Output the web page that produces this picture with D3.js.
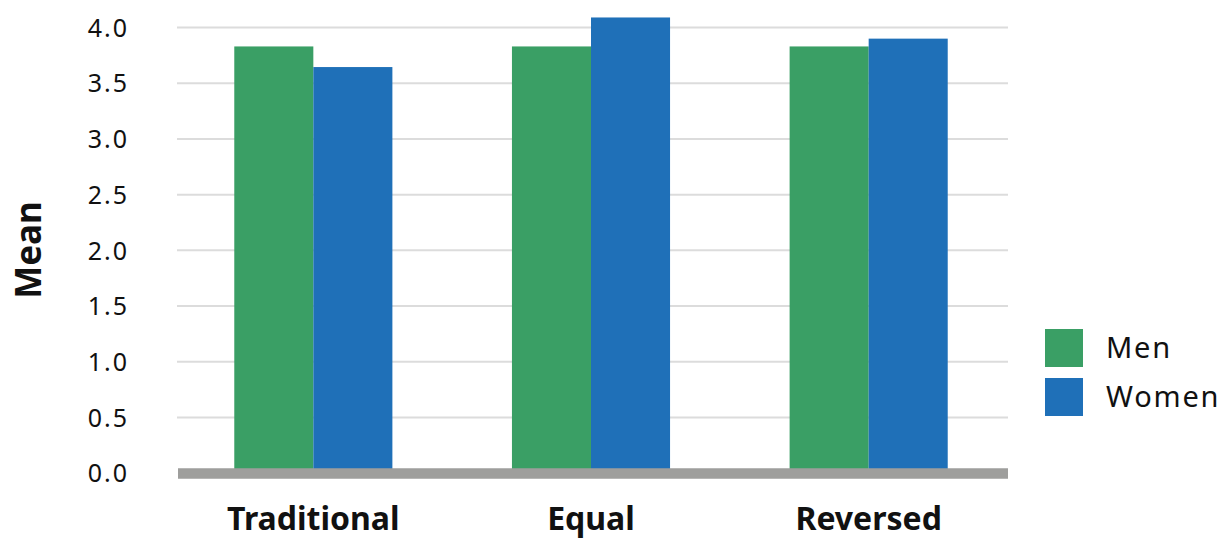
<!DOCTYPE html>
<html>
<head>
<meta charset="utf-8">
<script src="https://cdn.jsdelivr.net/npm/d3@7"></script>
<style>
  html, body { margin: 0; padding: 0; background: #fff; }
  svg { display: block; }
  text { font-family: "Noto Sans", "DejaVu Sans", sans-serif; fill: #111; }
</style>
</head>
<body>
<svg id="chart" width="1232" height="539"></svg>
<script>
const categories = ["Traditional", "Equal", "Reversed"];
const seriesNames = ["Men", "Women"];
const menValues = [3.83, 3.83, 3.83];
const womenValues = [3.645, 4.09, 3.9];
const yTicks = [0, 0.5, 1.0, 1.5, 2.0, 2.5, 3.0, 3.5, 4.0];
const colors = ["#3a9f65", "#1f70b8"];

const svg = d3.select("#chart");

const y = d3.scaleLinear().domain([0, 4]).range([473.2, 27.5]);
const x0 = d3.scaleBand().domain(categories).range([174.5, 1007.5])
  .paddingInner(0.4306).paddingOuter(0.2153);
const x1 = d3.scaleBand().domain(seriesNames).range([0, x0.bandwidth()]);

// gridlines
svg.append("g").selectAll("line").data(yTicks.filter(d => d > 0)).join("line")
  .attr("x1", 177).attr("x2", 1008)
  .attr("y1", d => y(d)).attr("y2", d => y(d))
  .attr("stroke", "#dcdcdc").attr("stroke-width", 2);

// y axis tick labels
const yAxis = d3.axisLeft(y).tickValues(yTicks).tickFormat(d3.format(".1f")).tickSize(0).tickPadding(0);
const yg = svg.append("g").attr("transform", "translate(129,0)").call(yAxis);
yg.select(".domain").remove();
yg.selectAll("text").attr("font-size", 25).attr("fill", "#111")
  .style("font-family", "'Noto Sans', sans-serif")
  .style("letter-spacing", "2px")
  .attr("dy", "0.35em");

// bars
const rows = categories.map((c, i) => ({ cat: c, vals: [menValues[i], womenValues[i]] }));
const groups = svg.append("g").selectAll("g").data(rows).join("g")
  .attr("transform", d => `translate(${x0(d.cat)},0)`);
groups.selectAll("rect").data(d => d.vals.map((v, j) => ({ s: seriesNames[j], v, j }))).join("rect")
  .attr("x", d => x1(d.s))
  .attr("width", x1.bandwidth())
  .attr("y", d => y(d.v))
  .attr("height", d => y(0) - y(d.v))
  .attr("fill", d => colors[d.j]);

// baseline
svg.append("line").attr("x1", 178).attr("x2", 1008)
  .attr("y1", y(0) + 0.3).attr("y2", y(0) + 0.3)
  .attr("stroke", "#9e9e9c").attr("stroke-width", 10.5);

// category labels
svg.append("g").selectAll("text").data(categories).join("text")
  .attr("x", d => x0(d) + x0.bandwidth() / 2)
  .attr("y", 530)
  .attr("text-anchor", "middle")
  .attr("font-size", 32).attr("font-weight", "bold")
  .text(d => d);

// y axis title
svg.append("text")
  .attr("transform", "translate(41,250) rotate(-90)")
  .attr("text-anchor", "middle")
  .attr("font-size", 35).attr("font-weight", "bold")
  .text("Mean");

// legend
const leg = svg.append("g").selectAll("g").data(seriesNames).join("g")
  .attr("transform", (d, i) => `translate(1045,${329 + i * 49})`);
leg.append("rect").attr("width", 38).attr("height", 38).attr("fill", (d, i) => colors[i]);
leg.append("text").attr("x", 61).attr("y", 29).attr("font-size", 29)
  .style("letter-spacing", "1.8px").text(d => d);
</script>
</body>
</html>
